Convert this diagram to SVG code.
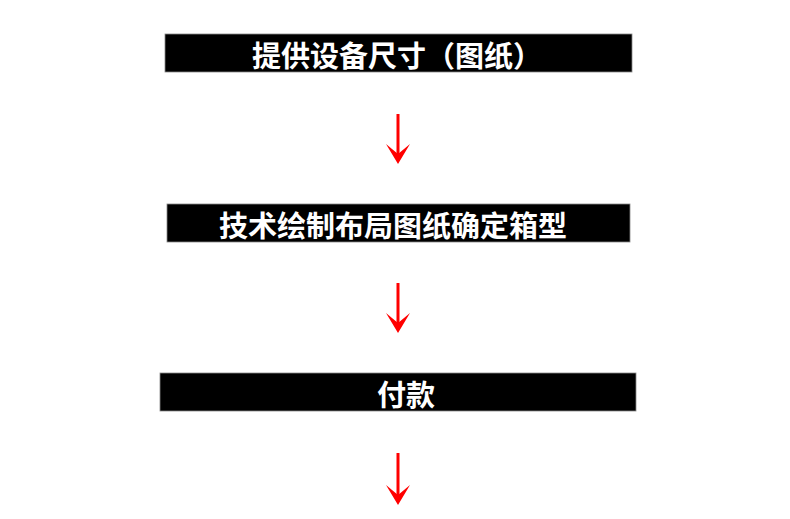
<svg xmlns="http://www.w3.org/2000/svg" width="790" height="519" viewBox="0 0 790 519">
<style>
.box{fill:#000;stroke:#888;stroke-width:0.8}
.lbl{fill:#fff;font-family:"Noto Sans CJK SC","Noto Sans",sans-serif;font-weight:bold;font-size:29px;text-anchor:middle;dominant-baseline:central}
.arr{stroke:#ff0000;stroke-width:3;fill:none}
.head{fill:#ff0000;stroke:none}
</style>
<rect width="790" height="519" fill="#fff"/>
<g id="node1"><rect class="box" x="165" y="34" width="467" height="38"/><text class="lbl" x="397" y="54">提供设备尺寸（图纸）</text></g>
<g id="node2"><rect class="box" x="167" y="204" width="463" height="38"/><text class="lbl" x="393" y="224">技术绘制布局图纸确定箱型</text></g>
<g id="node3"><rect class="box" x="160" y="373" width="476" height="38"/><text class="lbl" x="406" y="393">付款</text></g>
<g id="connectors">
<line class="arr" x1="398" y1="114" x2="398" y2="158"/><polygon class="head" points="386,144 398,164 410,144 398,154"/>
<line class="arr" x1="398" y1="283" x2="398" y2="327"/><polygon class="head" points="386,313 398,333 410,313 398,323"/>
<line class="arr" x1="398" y1="453" x2="398" y2="499"/><polygon class="head" points="386,485 398,505 410,485 398,495"/>
</g>
</svg>
